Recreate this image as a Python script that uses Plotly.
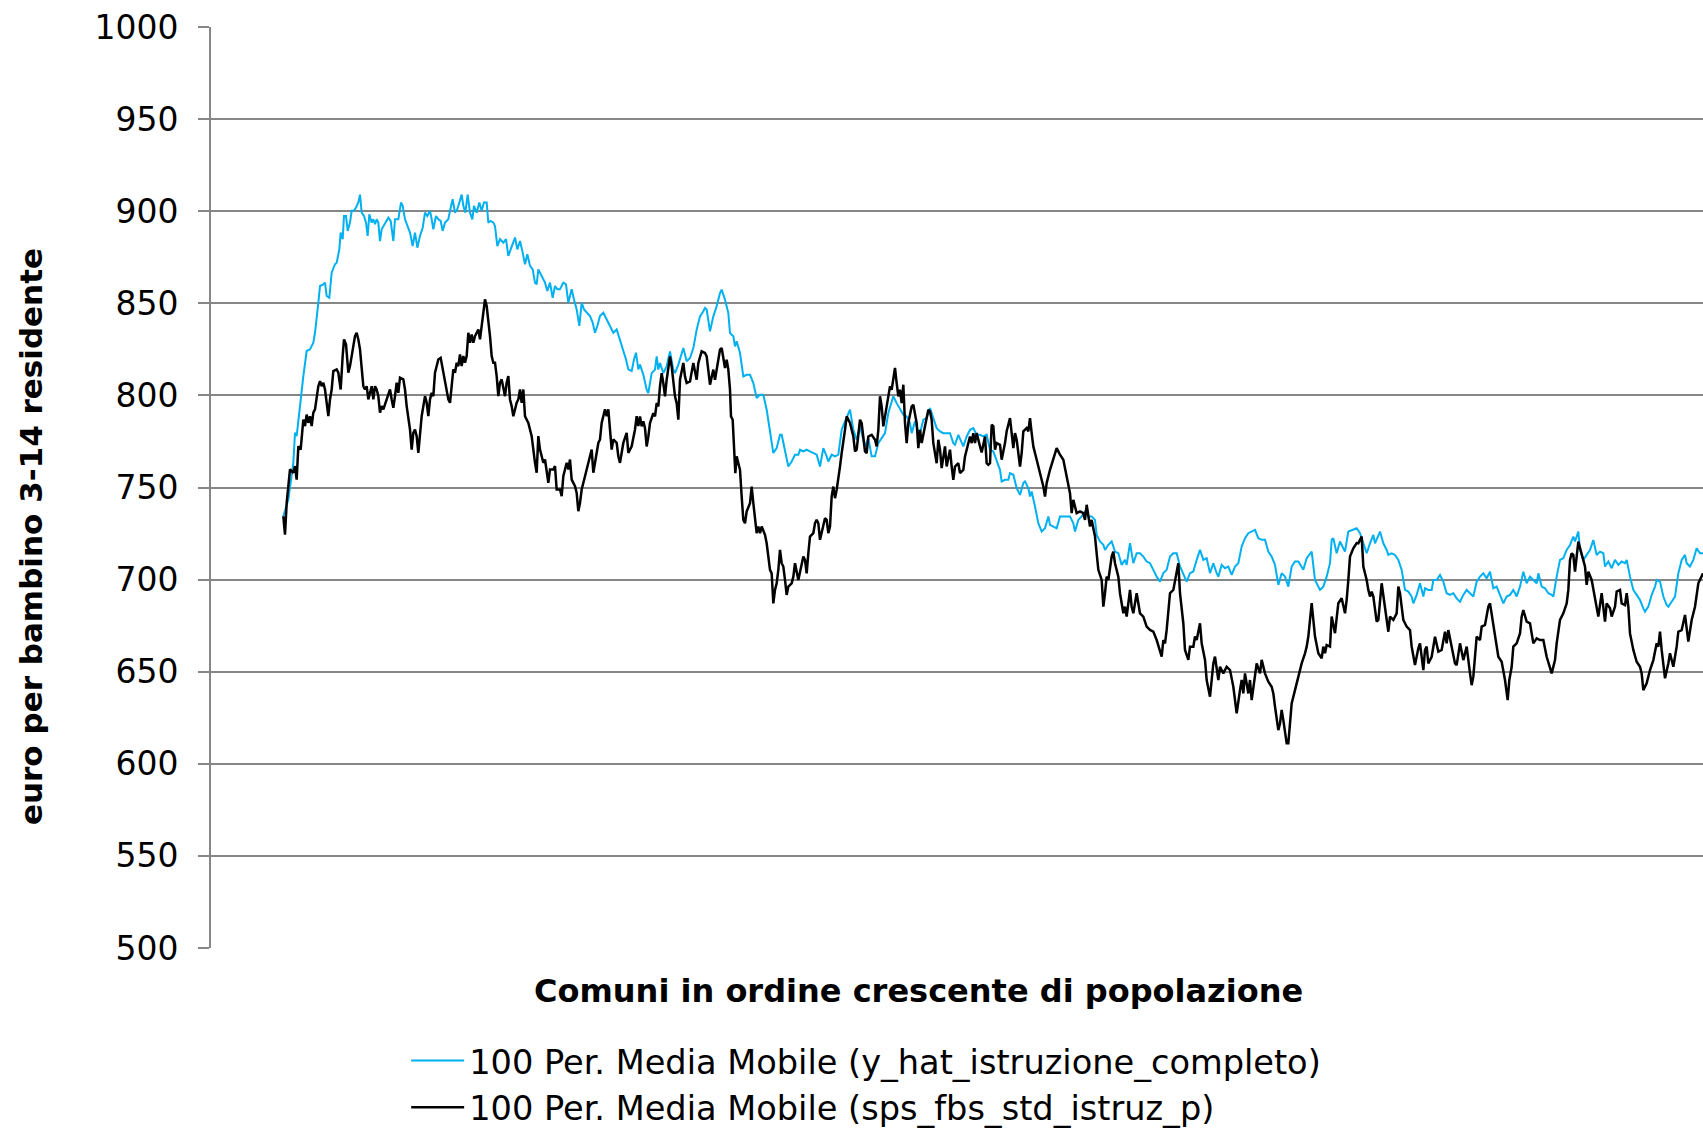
import plotly.graph_objects as go

# Comune rank (index along the x axis) and moving-average values
x_blue = [217, 232, 247, 252, 257, 267, 277, 287, 297, 307, 312, 322, 327, 337, 342, 347, 355, 362, 372, 377,
          385, 389, 395, 399, 405, 410, 417, 422, 429, 435, 442, 447, 452, 459, 465, 470, 475, 482, 487, 492,
          497, 502, 507, 512, 522, 532, 539, 547, 552, 562, 570, 575, 582, 589, 597, 605, 612, 619, 627, 635,
          642, 649, 657, 662, 667, 675, 682, 689, 695, 702, 712, 717, 725, 732, 739, 745, 752, 757, 763, 770,
          777, 784, 789, 797, 805, 812, 819, 827, 832, 839, 847, 852, 859, 867, 877, 885, 892, 899, 905, 912,
          919, 927, 935, 942, 949, 957, 965, 972, 977, 982, 992, 1002, 1009, 1017, 1025, 1032, 1039, 1047, 1057, 1065,
          1072, 1082, 1089, 1097, 1105, 1112, 1119, 1129, 1137, 1145, 1152, 1159, 1167, 1177, 1187, 1197, 1207, 1217, 1227, 1237,
          1245, 1252, 1262, 1269, 1275, 1282,
          1287, 1297, 1307, 1312, 1322, 1332, 1337, 1342, 1347, 1357, 1367, 1377, 1387, 1392, 1402, 1417, 1427, 1437, 1447, 1457,
          1467, 1477, 1482, 1487, 1497, 1507, 1517, 1527, 1532, 1542, 1552, 1557, 1567, 1572, 1577, 1587, 1597, 1607, 1617, 1627,
          1637, 1647, 1657, 1667, 1677, 1687, 1697, 1707, 1712, 1722, 1732, 1742, 1752, 1762, 1767, 1777, 1787, 1797, 1807, 1817,
          1827, 1837, 1847, 1852, 1862, 1872, 1882, 1892, 1902, 1917, 1927, 1937, 1947, 1957, 1962, 1972, 1982, 1992, 2002, 2012,
          2022, 2032, 2047, 2057, 2067, 2077, 2087, 2097, 2102, 2112, 2122, 2127, 2137, 2147, 2157, 2167, 2177, 2187, 2197, 2207,
          2217, 2227, 2232, 2242, 2257, 2267, 2277, 2287, 2297, 2307, 2317, 2327,
          2337, 2347, 2357, 2367, 2372, 2382, 2392, 2397, 2407, 2417, 2427, 2437, 2442, 2452, 2457, 2462, 2472, 2482, 2492, 2502,
          2512, 2517, 2527, 2537, 2547, 2557, 2567, 2577, 2587, 2592, 2602, 2612, 2622, 2632, 2642, 2652, 2657, 2667, 2677, 2682,
          2692, 2702, 2712, 2722, 2732, 2742, 2747, 2757, 2767, 2777, 2787, 2797, 2807, 2817, 2827, 2837, 2847, 2857, 2867, 2877,
          2887, 2897, 2907, 2917, 2927, 2937, 2947, 2957, 2967, 2977, 2987, 2997, 3007, 3017, 3022, 3032, 3042, 3052, 3062, 3072,
          3082, 3092, 3102, 3112, 3122, 3132, 3142, 3152, 3162, 3172, 3182, 3192, 3202, 3212, 3222, 3232, 3242, 3252, 3262, 3272,
          3277, 3287, 3297, 3302, 3312, 3322, 3327, 3337, 3347, 3357, 3362, 3367, 3377, 3387,
          3397, 3402, 3412, 3427, 3437, 3447, 3457, 3467, 3477, 3487, 3492, 3507, 3517, 3527, 3532, 3542, 3552, 3562, 3572, 3582,
          3592, 3602, 3607, 3617, 3627, 3637, 3642, 3652, 3662, 3667, 3677, 3687, 3697, 3707, 3717, 3727, 3737, 3747, 3757, 3767,
          3777, 3787, 3797, 3807, 3817, 3827, 3837, 3847, 3857, 3867, 3877, 3887, 3897, 3907, 3917, 3927, 3937, 3947, 3957, 3967,
          3977, 3982, 3992, 4002, 4012, 4022, 4027, 4037, 4047, 4057, 4067, 4077, 4087, 4092, 4102, 4107, 4117, 4127, 4137, 4147,
          4157, 4167, 4177, 4182, 4192, 4202, 4212, 4222, 4232, 4242, 4247, 4257, 4267, 4277, 4287, 4297, 4302, 4312, 4322, 4332,
          4337, 4347, 4357, 4367, 4372, 4382, 4392, 4402, 4412, 4422, 4427, 4437, 4447, 4457, 4467, 4476]
y_blue = [734.4, 743.4, 763.4, 779.7, 777.9, 796, 810.5, 824.1, 825, 828.6, 834, 850.3, 859.4, 860.3, 861.2, 854, 853, 866.6, 871.2, 872,
          879.3, 888.4, 884.8, 897.4, 897.4, 889.3, 893.8, 900.2, 900.2, 902, 904.7, 909, 899.2, 897.4, 893.8, 886.6, 898.3, 893.8, 895.6, 892.9,
          895.6, 893.8, 883.8, 890.2, 893.8, 896.5, 894.7, 883.8, 895.6, 895.6, 904.7, 902.9, 895.6, 892, 888.4, 881.1, 888.4, 880.2, 886.6, 891,
          899.2, 897.4, 900.2, 895.6, 890.2, 897.4, 895.6, 894.7, 889.3, 893.8, 895.6, 900.2, 906.5, 899.2, 901.1, 904.7, 909, 902.9, 899.2, 909,
          899.2, 895.6, 902.9, 899.2, 904.7, 900.2, 904.7, 904.7, 893.8, 894.7, 893.8, 892, 881.1, 884.8, 882.9, 884.8, 875.7, 879.3, 882.9, 885.7,
          879.3, 883.8, 877.5, 871.2, 876.6, 870.3, 868.4, 861.2, 860.3, 868.4, 864.8, 861.2, 856.7, 861.2, 853, 859.4, 857.6, 857.6, 861.2, 860.3,
          850.3, 857.6, 852.1, 846.7, 837.7, 850.3, 846.7, 844.9, 843.1, 839.5, 834, 837.7, 843.1, 844.9, 841.3, 837.7, 834, 835.8, 830.4, 824.1,
          819.5, 814.1, 813.2, 819.5, 823.2, 814.1,
          816.7, 811.2, 803.1, 801.3, 812.1, 814, 821.2, 814, 817.6, 812.1, 815.8, 823.9, 814, 812.1, 816.7, 825.7, 818.5, 820.3, 825.7, 835.7,
          842.9, 845.7, 847.5, 846.6, 834.8, 842.9, 848.4, 855.6, 857.4, 852, 844.7, 833.9, 832.1, 826.6, 829.4, 823, 810.3, 811.2, 811.2, 806.7,
          798.6, 800.4, 800.4, 792.2, 781.3, 768.7, 771.4, 778.6, 778.6, 769.6, 761.4, 764.1, 767.8, 767.8, 770.5, 769.6, 770.5, 769.6, 768.7, 767.8,
          761.4, 771.4, 766.9, 764.1, 767.8, 766.9, 767.8, 781.3, 785.9, 792.2, 781.3, 775.9, 783.2, 775.9, 772.3, 776.8, 766.9, 766.9, 774.1, 776.8,
          779.5, 790.4, 799.5, 795.8, 792.2, 789.5, 788.6, 785, 779.5, 785.9, 780.4, 779.5, 786.8, 787.7, 793.1, 787.7, 782.2, 780.4, 779.5, 779.5,
          779.5, 774.1, 773.2, 778.6, 772.3, 777.7, 781.3, 782.2, 778.6, 778.6, 777.7, 778.6,
          770.5, 769.6, 765.1, 759.6, 753.3, 754.2, 754.2, 757.8, 756.9, 749.7, 746, 752.4, 753.3, 749.7, 745.1, 747.8, 739.7, 730.6, 726.1, 727.9,
          734.3, 729.7, 728.8, 727.9, 734.3, 734.3, 734.3, 734.3, 730.6, 726.1, 732.4, 734.3, 737, 734.3, 734.3, 732.4, 724.3, 720.7, 718.9, 716.1,
          718.9, 720.7, 715.2, 714.3, 708, 710.7, 708, 719.8, 708.9, 714.3, 714.3, 712.5, 709.8, 708.9, 705.3, 701.6, 698.9, 703.5, 705.3, 712.5,
          714.3, 714.3, 707.1, 702.6, 698.9, 703.5, 704.4, 710.7, 716.1, 710.7, 711.6, 703.5, 708.9, 703.5, 701.6, 708, 706.2, 707.1, 702.6, 707.1,
          708.9, 717.9, 722.5, 725.2, 726.1, 727, 722.5, 721.6, 721.6, 715.2, 712.5, 708, 697.1, 703.5, 701.6, 696.2, 707.1, 709.8, 709.8, 707.1,
          705.3, 711.6, 714.3, 715.2, 699.8, 696.2, 694.4, 696.2, 701.6, 708.9, 721.6, 722.5, 714.3, 720.7,
          717, 715.2, 726.1, 727.3, 727.9, 725.2, 719.7, 714.3, 719.7, 724.3, 719.7, 726.1, 719.7, 716.1, 713.4, 714.3, 713.4, 710.7, 705.2, 694.4,
          693.5, 690.8, 687.1, 691.7, 698, 690.8, 695.3, 694.4, 694.4, 699.8, 699.8, 702.5, 698.9, 692.6, 691.7, 692.6, 689.8, 688, 691.7, 694.4,
          692.6, 690.8, 698.9, 701.6, 703.4, 700.7, 704.3, 695.3, 696.2, 691.7, 687.1, 690.8, 691.7, 694.4, 690.8, 696.2, 704.3, 698, 701.6, 699.8,
          698, 703.4, 696.2, 695.3, 692.6, 691.7, 690.8, 701.6, 710.7, 711.6, 716.1, 718.8, 723.4, 720.7, 726.1, 716.1, 710.7, 713.4, 716.1, 721.5,
          713.4, 715.2, 714.3, 707.1, 709.8, 706.2, 710.7, 708, 709.8, 708.9, 710.7, 701.6, 694.4, 691.7, 688.9, 684.4, 682.6, 685.3, 691.7, 696.2,
          699.8, 698.9, 690.8, 686.2, 685.3, 688, 690.8, 703.4, 710.7, 713.4, 708.9, 707.1, 710.7, 717, 714.3, 714.3]

x_black = [217, 222, 227, 237, 247, 252, 257, 262, 269, 277, 282, 287, 292, 297, 302, 307, 312, 317, 322, 327,
           332, 337, 342, 347, 352, 357, 362, 367, 377, 382, 389, 395, 399, 405, 412, 417, 422, 427, 432, 437,
           442, 447, 452, 457, 462, 467, 472, 477, 482, 487, 492, 497, 502, 507, 512, 517, 527, 537, 542, 547,
           552, 557, 562, 567, 577, 582, 587, 592, 597, 602, 607, 612, 617, 622, 627, 632, 642, 647, 652, 657,
           662, 667, 672, 677, 682, 689, 695, 702, 707, 712, 717, 722, 727, 732, 737, 742, 747, 752, 757, 762,
           767, 772, 777, 782, 787, 792, 802, 807, 812, 817, 822, 827, 832, 837, 842, 847, 852, 857, 862, 867,
           872, 877, 882, 887, 892, 897, 902, 907, 917, 922, 927, 932, 937, 942, 952, 962, 967, 972, 977, 982,
           987, 997, 1002, 1012, 1017, 1027, 1032, 1037, 1047, 1052, 1057, 1067, 1072, 1077, 1082, 1092, 1097, 1102, 1107, 1112,
           1122, 1132, 1137, 1142, 1147, 1152, 1162, 1167, 1172, 1182, 1187, 1192, 1197, 1202, 1207, 1217, 1222, 1227, 1237, 1247,
           1252, 1262, 1272, 1277, 1282,
           1287, 1292, 1297, 1302, 1307, 1312, 1317, 1327, 1332, 1337, 1342, 1347, 1352, 1357, 1362, 1367, 1372, 1377, 1382, 1387,
           1392, 1397, 1402, 1407, 1412, 1417, 1422, 1427, 1437, 1447, 1457, 1462, 1472, 1482, 1487, 1492, 1497, 1507, 1512, 1517,
           1527, 1532, 1537, 1542, 1547, 1552, 1557, 1560, 1565, 1569, 1573, 1577, 1582, 1587, 1592, 1597, 1602, 1607, 1617, 1622,
           1627, 1632, 1637, 1642, 1647, 1652, 1662, 1667, 1672, 1677, 1682, 1687, 1692, 1697, 1702, 1707, 1712, 1717, 1722, 1727,
           1732, 1742, 1747, 1752, 1762, 1772, 1777, 1782, 1787, 1792, 1797, 1807, 1812, 1817, 1822, 1827, 1832, 1842, 1847, 1852,
           1857, 1862, 1867, 1872, 1877, 1882, 1887, 1892, 1897, 1902, 1907, 1917, 1927, 1932, 1937, 1942, 1947, 1952, 1957, 1962,
           1967, 1972, 1982, 1992, 1997, 2002, 2007, 2012, 2017, 2022, 2027, 2037, 2042, 2047, 2052, 2057, 2062, 2067, 2072, 2077,
           2082, 2087, 2092, 2102, 2107, 2117, 2122, 2127, 2132, 2142, 2152, 2157, 2162, 2167, 2177, 2182, 2187, 2192, 2202, 2207,
           2217, 2222, 2227, 2232, 2242, 2247, 2257, 2262, 2272, 2277, 2282, 2287, 2292, 2297, 2307, 2312, 2322, 2327, 2332,
           2337, 2342, 2347, 2352, 2357, 2367, 2372, 2382, 2387, 2397, 2402, 2407, 2412, 2417, 2427, 2432, 2437, 2447, 2452, 2457,
           2462, 2467, 2477, 2487, 2497, 2502, 2507, 2517, 2527, 2537, 2547, 2557, 2567, 2577, 2582, 2587, 2597, 2607, 2617, 2622,
           2627, 2632, 2637, 2642, 2652, 2657, 2662, 2672, 2677, 2682, 2687, 2692, 2702, 2707, 2712, 2722, 2727, 2737, 2742, 2747,
           2757, 2762, 2767, 2777, 2787, 2797, 2807, 2817, 2827, 2837, 2847, 2852, 2857, 2862, 2867, 2877, 2887, 2897, 2902, 2907,
           2912, 2917, 2922, 2932, 2937, 2947, 2952, 2957, 2967, 2972, 2982, 2987, 2997, 3002, 3007, 3012, 3022, 3027, 3037, 3047,
           3057, 3067, 3077, 3087, 3092, 3097, 3102, 3112, 3117, 3122, 3132, 3137, 3147, 3152, 3162, 3172, 3182, 3187, 3192, 3197,
           3202, 3207, 3212, 3217, 3222, 3227, 3232, 3237, 3242, 3252, 3262, 3272, 3282, 3287, 3292, 3297, 3302, 3307, 3312, 3322,
           3332, 3337, 3342, 3347, 3357, 3362, 3372, 3382, 3392, 3402, 3407, 3412, 3417, 3427, 3437,
           3442, 3452, 3457, 3467, 3472, 3477, 3482, 3487, 3497, 3502, 3512, 3522, 3532, 3537, 3547, 3557, 3562, 3567, 3577, 3587,
           3597, 3602, 3612, 3622, 3627, 3637, 3642, 3647, 3652, 3662, 3672, 3682, 3692, 3702, 3707, 3712, 3722, 3732, 3737, 3747,
           3757, 3767, 3777, 3782, 3787, 3797, 3807, 3812, 3822, 3832, 3837, 3842, 3852, 3862, 3872, 3882, 3890, 3895, 3902, 3907,
           3917, 3927, 3932, 3937, 3947, 3957, 3967, 3977, 3987, 3997, 4007, 4017, 4022, 4032, 4037, 4047, 4057, 4067, 4072, 4077,
           4082, 4087, 4092, 4102, 4112, 4122, 4127, 4132, 4142, 4152, 4162, 4172, 4182, 4187, 4197, 4202, 4212, 4217, 4227, 4232,
           4242, 4247, 4252, 4257, 4267, 4277, 4287, 4292, 4297, 4307, 4317, 4327, 4337, 4342, 4347, 4352, 4362, 4372, 4377, 4387,
           4397, 4402, 4412, 4422, 4432, 4442, 4452, 4462, 4472, 4476]
y_black = [734.4, 724.4, 741.6, 759.8, 758, 761.6, 754.3, 772.4, 770.6, 786.9, 783.3, 789.6, 785.1, 788.7, 783.3, 790.6, 792.4, 797.8, 805, 807.8,
           805, 806.9, 803.2, 796, 788.7, 797.8, 803.2, 813.2, 814.1, 812.3, 803.2, 821.4, 830.4, 827.7, 812.3, 815.9, 821.4, 828.6, 832.2, 834,
           830.4, 825, 814.1, 805, 803.2, 805, 797.8, 801.4, 805, 797.8, 805, 803.2, 799.6, 790.6, 794.2, 792.4, 797.8, 803.2, 797.8, 793.3,
           799.6, 806.9, 801.4, 809.6, 808.7, 803.2, 794.2, 787.8, 781.5, 770.6, 779.7, 781.5, 777.9, 768.8, 779.7, 788.7, 799.6, 796, 788.7, 797.8,
           801.4, 799.6, 812.3, 815.9, 819.5, 820.4, 814.1, 806.9, 803.2, 797.8, 796, 806.9, 814.1, 812.3, 817.7, 815.9, 822.3, 815.9, 821.4, 817.7,
           821.4, 834, 828.6, 833.1, 828.6, 832.2, 835.8, 830.4, 837.7, 844.9, 852.1, 848.5, 841.3, 832.2, 821.4, 817.7, 817.7, 810.5, 799.6, 806.9,
           808.7, 805, 799.6, 806.9, 810.5, 797.8, 794.2, 788.7, 796, 797.8, 803.2, 796, 803.2, 788.7, 785.1, 777.9, 768.8, 763.4, 758, 777.9,
           770.6, 763.4, 765.2, 752.5, 759.8, 759.8, 761.6, 748.9, 748.9, 745.3, 756.1, 763.4, 759.8, 765.2, 754.3, 750.7, 747.1, 737.1, 741.6, 748.9,
           756.1, 763.4, 767, 770.6, 758, 763.4, 774.2, 776.1, 785.1, 792.4, 788.7, 792.4, 783.3, 770.6, 776.1, 774.2, 767, 763.4, 774.2, 779.7,
           768.8, 772.4, 781.5, 788.7, 783.3,
           788.6, 783.2, 785.9, 782.2, 772.3, 777.7, 785, 790.4, 788.6, 795.8, 794, 804.9, 812.1, 806.7, 799.5, 808.5, 814, 821.2, 815.8, 806.7,
           799.5, 795.8, 786.8, 808.5, 814, 817.6, 810.3, 806.7, 807.6, 817.6, 808.5, 817.6, 823.9, 823, 821.2, 812.1, 805.8, 814, 808.5, 814,
           824.8, 825.7, 821.2, 814.9, 819.4, 814, 803.1, 788.6, 786.8, 774.1, 757.8, 766.9, 763.2, 759.6, 745.1, 732.4, 730.6, 737, 741.5, 750.5,
           741.5, 732.4, 725.2, 728.8, 725.2, 728.8, 724.3, 719.7, 712.5, 705.3, 703.4, 687.1, 694.4, 698, 705.3, 716.1, 708.9, 707.1, 699.8, 691.7,
           696.2, 698, 701.6, 708.9, 699.8, 708.9, 712.5, 710.7, 703.4, 714.3, 723.4, 725.2, 730.6, 732.4, 730.6, 721.6, 725.2, 733.3, 732.4, 725.2,
           728.8, 745.1, 750.5, 744.2, 748.7, 754.2, 761.4, 768.7, 774.1, 781.3, 788.6, 785, 777.7, 769.6, 770.5, 779.5, 786.8, 785, 777.7, 769.6,
           768.7, 777.7, 778.6, 775.9, 772.3, 781.3, 799.5, 794, 783.2, 788.6, 795.8, 804.9, 803.1, 810.3, 814.9, 806.7, 799.5, 803.1, 795.8, 805.8,
           785, 774.1, 785, 794, 794.9, 785, 771.4, 781.3, 774.1, 783.2, 792.2, 791.3, 786.8, 774.1, 763.2, 775.9, 770.5, 760.5, 772.3, 761.4,
           770.5, 761.4, 754.2, 761.4, 763.2, 757.8, 759.6, 766.9, 774.1, 777.7, 774.1, 779.5, 774.1, 779.5, 772.3, 769, 777.7, 763.2, 762.3,
           763.2, 784.1, 783.2, 770.5, 774.1, 773.2, 765.1, 774.1, 780.5, 787.7, 777.7, 771.4, 779.5, 775.9, 761.4, 768.7, 780.5, 782.3, 780.5, 787.7,
           779.5, 772.3, 765.1, 757.8, 750.6, 745.1, 752.4, 759.6, 765.1, 771.4, 767.8, 765.1, 756, 746.9, 736.1, 743.3, 736.1, 737, 736.1, 732.4,
           740.6, 734.3, 728.8, 732.4, 723.4, 714.3, 705.3, 699.8, 685.3, 692.6, 701.6, 699.8, 712.5, 715.2, 708.9, 701.6, 692.6, 681.7, 685.3, 679.9,
           694.4, 685.3, 681.7, 692.6, 681.7, 679.9, 674.5, 672.7, 671.8, 667.2, 661.8, 658.2, 667.2, 665.4, 672.7, 692.6, 694.4, 705.3, 708.9, 692.6,
           685.3, 676.3, 661.8, 656.4, 663.6, 663.6, 669.1, 667.2, 676.3, 665.4, 656.4, 645.5, 636.4, 645.5, 654.5, 658.2, 645.5, 652.7, 649.1, 652.7,
           650.9, 641.8, 627.4, 640, 645.5, 638.2, 649.1, 638.2, 645.5, 634.6, 647.3, 654.5, 649.1, 656.4, 649.1, 644.6, 641.8, 638.2, 631, 623.7,
           618.3, 621.9, 629.2, 623.7, 616.5, 611.1, 611.1, 623.7, 632.8, 640, 647.3, 654.5, 660, 663.6, 669.1, 679.9, 687.2, 678.1, 669.1, 660,
           657.3, 663.6, 660, 664.5, 663.6, 679.9, 670.9, 687.2, 689.9, 681.7, 689, 699.8, 712.5, 717, 719.8,
           719.7, 723.4, 707.1, 699.8, 694.4, 690.8, 693.5, 690.8, 677.2, 678.1, 698, 683.5, 671.7, 679.9, 678.1, 681.7, 696.2, 692.6, 678.1, 674.5,
           672.6, 663.6, 653.6, 662.7, 665.4, 650.9, 661.8, 663.6, 654.5, 658.1, 669, 660.9, 661.8, 671.7, 665.4, 672.6, 663.6, 654.5, 653.6, 665.4,
           656.3, 663.6, 649.1, 642.7, 647.3, 669, 667.2, 674.5, 675.4, 685.3, 687.1, 681.7, 669, 658.1, 655.4, 645.5, 634.6, 645.5, 652.7, 663.6,
           665.4, 670.8, 679.9, 683.5, 677.2, 676.3, 665.4, 668.1, 667.2, 667.2, 658.1, 652.7, 649.1, 656.3, 665.4, 678.1, 681.7, 687.1, 694.4, 710.7,
           714.3, 713.4, 704.3, 720.6, 713.4, 707.1, 697.1, 704.3, 699.8, 690.8, 679.9, 692.6, 677.2, 687.1, 684.4, 679.9, 685.3, 693.5, 694.4, 687.1,
           686.2, 692.6, 685.3, 670.8, 661.8, 655.4, 652.7, 649.1, 640, 643.7, 650.9, 656.3, 665.4, 663.6, 671.7, 661.8, 646.4, 654.5, 660, 652.7,
           663.6, 671.7, 672.6, 680.8, 666.3, 678.1, 685.3, 698, 701.6, 703.4]

y_ticks = [500, 550, 600, 650, 700, 750, 800, 850, 900, 950, 1000]

name_blue = "100 Per. Media Mobile (y_hat_istruzione_completo)"
name_black = "100 Per. Media Mobile (sps_fbs_std_istruz_p)"
title_x = "Comuni in ordine crescente di popolazione"
title_y = "euro per bambino 3-14 residente"

GRID = "#868686"
FONT = "DejaVu Sans, Liberation Sans, Arial, sans-serif"

fig = go.Figure()
fig.add_trace(go.Scatter(x=x_blue, y=y_blue, mode="lines", name=name_blue,
                         line=dict(color="#00B0F0", width=2)))
fig.add_trace(go.Scatter(x=x_black, y=y_black, mode="lines", name=name_black,
                         line=dict(color="#000000", width=2.5)))

fig.update_layout(
    width=1703, height=1128, autosize=False,
    margin=dict(l=211, r=0, t=27, b=180, autoexpand=False),
    paper_bgcolor="white", plot_bgcolor="white",
    font=dict(family=FONT, color="black", size=32),
    showlegend=True,
    legend=dict(xref="container", yref="container", x=0.2385, y=0.085,
                xanchor="left", yanchor="top",
                font=dict(family=FONT, size=33.6, color="black"),
                bgcolor="rgba(0,0,0,0)", itemwidth=53, tracegroupgap=0),
    annotations=[
        dict(text="<b>" + title_x + "</b>", xref="paper", yref="paper",
             x=0.4745, y=-0.0467, xanchor="center", yanchor="middle",
             showarrow=False, font=dict(family=FONT, size=32, color="black")),
        dict(text="<b>" + title_y + "</b>", xref="paper", yref="paper",
             x=-0.1206, y=0.4463, xanchor="center", yanchor="middle", textangle=-90,
             showarrow=False, font=dict(family=FONT, size=31, color="black")),
    ],
)
fig.update_xaxes(range=[0, 4476], showticklabels=False, showgrid=False,
                 zeroline=False, showline=False, ticks="", automargin=False)
fig.update_yaxes(range=[500, 1000], tickvals=y_ticks, ticks="outside", ticklen=11,
                 tickwidth=2, tickcolor=GRID, gridcolor=GRID, gridwidth=2,
                 showline=True, linecolor=GRID, linewidth=2, zeroline=False,
                 automargin=False, ticklabelstandoff=13,
                 tickfont=dict(family=FONT, size=33, color="black"))

fig.write_html("out.html",
               config={"displayModeBar": False},
               post_script="document.body.style.margin='0px';"
                           "document.body.style.overflow='hidden';")
